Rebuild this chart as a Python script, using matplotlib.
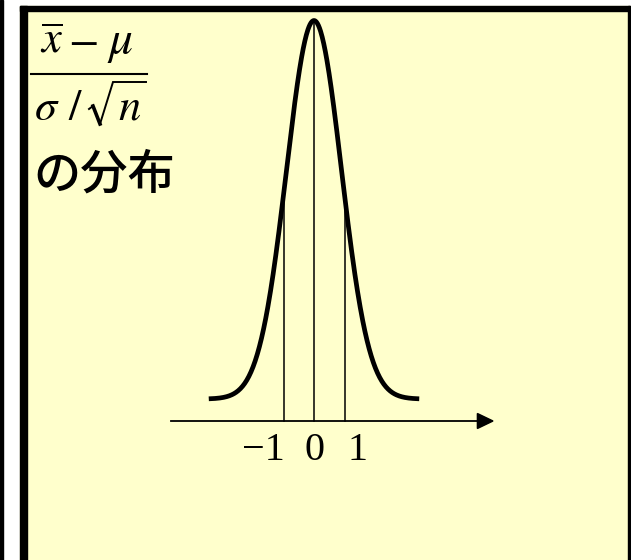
import numpy as np
import matplotlib.pyplot as plt
from matplotlib.patches import Rectangle, Polygon

# Standardised sample mean: density sketch with ticks at -1, 0, 1
tick_vals = [-1, 0, 1]
tick_labels = ["\u22121", "0", "1"]
label_x = [-1.67, 0.03, 1.44]

curve_sd = 0.9       # spread of the drawn bell
curve_lift = 0.72    # bell sits a little above the axis
curve_height = 12.41
curve_span = 3.45

W, H = 631, 560
px = 30.5            # pixels per unit
cx, cy = 314, 421    # pixel position of the origin

plt.rcParams["mathtext.fontset"] = "stix"

fig = plt.figure(figsize=(W / 100, H / 100), dpi=100)
fig.patch.set_facecolor("white")

# pixel-space layer for the frame and the annotation text
bg = fig.add_axes([0, 0, 1, 1])
bg.set_xlim(0, W)
bg.set_ylim(H, 0)
bg.axis("off")

bg.add_patch(Rectangle((0, 0), 3, H, color="black"))
bg.add_patch(Rectangle((20, 6), 610, H, color="#FFFFCC"))
bg.add_patch(Rectangle((20, 6), 6.5, H, color="black"))
bg.add_patch(Rectangle((20, 6), 610, 5, color="black"))
bg.add_patch(Rectangle((628, 6), 2, H, color="black"))

# (x̄ - μ) / (σ / √n), set piece by piece
fs = 32
bg.text(52, 53, r"$\overline{x}$", fontsize=fs, ha="center", va="baseline")
bg.text(83, 53, r"$-$", fontsize=fs, ha="center", va="baseline")
bg.text(120, 53, r"$\mu$", fontsize=fs + 2, ha="center", va="baseline")
bg.plot([31, 147], [73.5, 73.5], color="black", lw=1.5)
bg.text(47, 120, r"$\sigma$", fontsize=fs, ha="center", va="baseline")
bg.text(76, 120, r"$/$", fontsize=fs, ha="center", va="baseline")
bg.text(130, 120, r"$n$", fontsize=fs, ha="center", va="baseline")
bg.plot([89, 93, 100, 113, 146], [109, 106, 124, 82, 82], color="black",
        lw=1.4, solid_joinstyle="miter")
bg.plot([93, 100], [106, 124], color="black", lw=2.6)

bg.text(33, 189, "の分布", fontsize=34, family=["Noto Sans CJK JP", "DejaVu Sans"],
        weight="medium", ha="left", va="baseline")

# data axes for the bell curve
x0, x1 = 150, 520
y0, y1 = 10, 480
ax = fig.add_axes([x0 / W, (H - y1) / H, (x1 - x0) / W, (y1 - y0) / H])
ax.set_xlim((x0 - cx) / px, (x1 - cx) / px)
ax.set_ylim((cy - y1) / px, (cy - y0) / px)
ax.axis("off")
ax.patch.set_alpha(0)

def bell(x):
    return curve_lift + curve_height * np.exp(-x ** 2 / (2 * curve_sd ** 2))

xs = np.linspace(-curve_span, curve_span, 400)
ax.plot(xs, bell(xs), color="black", lw=3.4, solid_capstyle="butt")

# horizontal axis with arrow head
ax_start = (171 - cx) / px
ax_end = (478 - cx) / px
tip = (493 - cx) / px
half = 7.5 / px
ax.plot([ax_start, ax_end], [0, 0], color="black", lw=1.3)
ax.add_patch(Polygon([[ax_end - 0.02, half], [tip, 0], [ax_end - 0.02, -half]],
                     closed=True, color="black"))

for t in tick_vals:
    ax.plot([t, t], [0, bell(t)], color="black", lw=1.1)

for lx, lab in zip(label_x, tick_labels):
    ax.text(lx, -1.28, lab, fontsize=29, family="Liberation Serif",
            ha="center", va="baseline")

fig.savefig("out.png", dpi=100)
